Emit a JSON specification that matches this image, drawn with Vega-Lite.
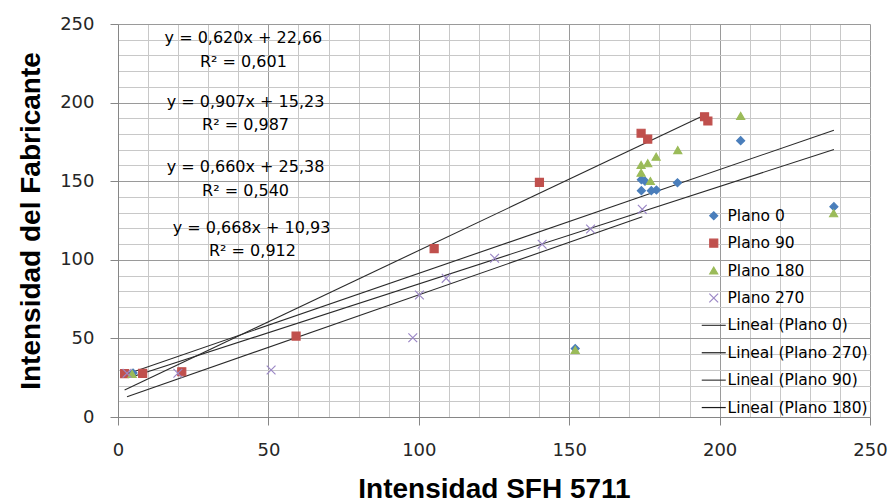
{
  "$schema": "https://vega.github.io/schema/vega-lite/v6.json",
  "width": 752,
  "height": 393,
  "autosize": {"type": "none"},
  "padding": {"left": 118, "top": 24, "right": 23, "bottom": 87},
  "background": "white",
  "config": {
    "view": {"stroke": null},
    "font": "DejaVu Sans",
    "axis": {
      "domainColor": "#868686",
      "tickColor": "#868686",
      "tickSize": 8,
      "labelFont": "DejaVu Sans",
      "labelFontSize": 18,
      "labelColor": "#262626",
      "labelPadding": 16,
      "titleFont": "Liberation Sans",
      "titleFontWeight": "bold",
      "titleFontSize": 28,
      "titleColor": "#000000",
      "gridWidth": 1
    },
    "legend": {
      "title": null,
      "orient": "none",
      "legendX": 588,
      "legendY": 184,
      "labelFont": "DejaVu Sans",
      "labelFontSize": 15.5,
      "labelColor": "#000000",
      "labelOffset": 6,
      "rowPadding": 10.4,
      "symbolSize": 64,
      "symbolStrokeWidth": 1.2,
      "symbolOpacity": 1
    }
  },
  "datasets": {
    "pts": [
      {"serie": "Plano 0", "x": 5, "y": 28},
      {"serie": "Plano 0", "x": 152, "y": 43.5},
      {"serie": "Plano 0", "x": 174, "y": 151},
      {"serie": "Plano 0", "x": 175.2, "y": 150},
      {"serie": "Plano 0", "x": 174, "y": 144},
      {"serie": "Plano 0", "x": 177.3, "y": 144},
      {"serie": "Plano 0", "x": 179, "y": 144.4},
      {"serie": "Plano 0", "x": 186, "y": 149},
      {"serie": "Plano 0", "x": 207, "y": 175.8},
      {"serie": "Plano 0", "x": 238, "y": 133.8},
      {"serie": "Plano 90", "x": 2.2, "y": 27.6},
      {"serie": "Plano 90", "x": 8.2, "y": 27.8},
      {"serie": "Plano 90", "x": 21.2, "y": 28.8},
      {"serie": "Plano 90", "x": 59.2, "y": 51.5},
      {"serie": "Plano 90", "x": 105.1, "y": 107.1},
      {"serie": "Plano 90", "x": 140.1, "y": 149.3},
      {"serie": "Plano 90", "x": 173.9, "y": 180.5},
      {"serie": "Plano 90", "x": 176.1, "y": 176.8},
      {"serie": "Plano 90", "x": 195, "y": 191},
      {"serie": "Plano 90", "x": 196.1, "y": 188.3},
      {"serie": "Plano 180", "x": 4.7, "y": 27.4},
      {"serie": "Plano 180", "x": 152, "y": 42.6},
      {"serie": "Plano 180", "x": 173.9, "y": 160.3},
      {"serie": "Plano 180", "x": 176.1, "y": 161.4},
      {"serie": "Plano 180", "x": 178.9, "y": 165.6},
      {"serie": "Plano 180", "x": 186.1, "y": 169.8},
      {"serie": "Plano 180", "x": 173.9, "y": 155.4},
      {"serie": "Plano 180", "x": 177, "y": 150.1},
      {"serie": "Plano 180", "x": 207, "y": 191.5},
      {"serie": "Plano 180", "x": 237.9, "y": 129.6},
      {"serie": "Plano 270", "x": 3, "y": 27.8},
      {"serie": "Plano 270", "x": 19.9, "y": 27.8},
      {"serie": "Plano 270", "x": 50.9, "y": 29.9},
      {"serie": "Plano 270", "x": 98, "y": 50.4},
      {"serie": "Plano 270", "x": 100.2, "y": 77.6},
      {"serie": "Plano 270", "x": 109.1, "y": 88.2},
      {"serie": "Plano 270", "x": 125.2, "y": 101},
      {"serie": "Plano 270", "x": 141, "y": 109.9},
      {"serie": "Plano 270", "x": 157.1, "y": 119.6},
      {"serie": "Plano 270", "x": 174.3, "y": 132.1}
    ],
    "trend": [
      {"serie": "Lineal (Plano 0)", "x": 5, "y": 25.76},
      {"serie": "Lineal (Plano 0)", "x": 238, "y": 170.22},
      {"serie": "Lineal (Plano 270)", "x": 3, "y": 12.93},
      {"serie": "Lineal (Plano 270)", "x": 174.3, "y": 127.36},
      {"serie": "Lineal (Plano 90)", "x": 2.2, "y": 17.23},
      {"serie": "Lineal (Plano 90)", "x": 196.1, "y": 193.1},
      {"serie": "Lineal (Plano 180)", "x": 4.7, "y": 28.48},
      {"serie": "Lineal (Plano 180)", "x": 238, "y": 182.46}
    ],
    "eq": [
      {"label": "y = 0,620x + 22,66", "x": 41.7, "y": 241.1},
      {"label": "R² = 0,601", "x": 41.7, "y": 225.8},
      {"label": "y = 0,907x + 15,23", "x": 42.4, "y": 200.4},
      {"label": "R² = 0,987", "x": 42.4, "y": 185.7},
      {"label": "y = 0,660x + 25,38", "x": 42.4, "y": 159.0},
      {"label": "R² = 0,540", "x": 42.4, "y": 143.8},
      {"label": "y = 0,668x + 10,93", "x": 44.4, "y": 120.2},
      {"label": "R² = 0,912", "x": 44.7, "y": 105.6}
    ]
  },
  "encoding": {
    "x": {
      "field": "x",
      "type": "quantitative",
      "scale": {"domain": [0, 250], "nice": false, "zero": false},
      "axis": {
        "title": "Intensidad SFH 5711",
        "titlePadding": 16,
        "values": [0, 10, 20, 30, 40, 50, 60, 70, 80, 90, 100, 110, 120, 130, 140, 150, 160, 170, 180, 190, 200, 210, 220, 230, 240, 250],
        "labelExpr": "datum.value % 50 == 0 ? datum.label : ''",
        "labelOverlap": false,
        "labelFlush": false,
        "grid": true,
        "gridColor": {"condition": {"test": "datum.value % 50 == 0", "value": "#9a9a9a"}, "value": "#c8c8c8"},
        "tickOpacity": {"condition": {"test": "datum.value % 50 == 0", "value": 1}, "value": 0}
      }
    },
    "y": {
      "field": "y",
      "type": "quantitative",
      "scale": {"domain": [0, 250], "nice": false, "zero": false},
      "axis": {
        "title": "Intensidad del Fabricante",
        "titlePadding": 14,
        "values": [0, 10, 20, 30, 40, 50, 60, 70, 80, 90, 100, 110, 120, 130, 140, 150, 160, 170, 180, 190, 200, 210, 220, 230, 240, 250],
        "labelExpr": "datum.value % 50 == 0 ? datum.label : ''",
        "labelOverlap": false,
        "labelFlush": false,
        "grid": true,
        "gridColor": {"condition": {"test": "datum.value % 50 == 0", "value": "#9a9a9a"}, "value": "#c8c8c8"},
        "tickOpacity": {"condition": {"test": "datum.value % 50 == 0", "value": 1}, "value": 0}
      }
    }
  },
  "layer": [
    {
      "data": {"name": "trend"},
      "mark": {"type": "line", "strokeWidth": 1.1, "color": "#2a2a2a"},
      "encoding": {
        "detail": {"field": "serie"}
      }
    },
    {
      "data": {"name": "pts"},
      "mark": {"type": "point", "filled": true, "opacity": 1, "size": 64, "strokeWidth": 1.2},
      "encoding": {
        "color": {
          "field": "serie",
          "type": "nominal",
          "scale": {
            "domain": ["Plano 0", "Plano 90", "Plano 180", "Plano 270", "Lineal (Plano 0)", "Lineal (Plano 270)", "Lineal (Plano 90)", "Lineal (Plano 180)"],
            "range": ["#4a7ebb", "#c0504d", "#9bbb59", "#9c88c6", "#3a3a3a", "#1a1a1a", "#3a3a3a", "#1a1a1a"]
          }
        },
        "stroke": {
          "field": "serie",
          "type": "nominal",
          "scale": {
            "domain": ["Plano 0", "Plano 90", "Plano 180", "Plano 270", "Lineal (Plano 0)", "Lineal (Plano 270)", "Lineal (Plano 90)", "Lineal (Plano 180)"],
            "range": ["#4a7ebb", "#c0504d", "#9bbb59", "#9c88c6", "#3a3a3a", "#1a1a1a", "#3a3a3a", "#1a1a1a"]
          }
        },
        "shape": {
          "field": "serie",
          "type": "nominal",
          "scale": {
            "domain": ["Plano 0", "Plano 90", "Plano 180", "Plano 270", "Lineal (Plano 0)", "Lineal (Plano 270)", "Lineal (Plano 90)", "Lineal (Plano 180)"],
            "range": ["diamond", "square", "triangle-up", "M-1.1,-1.1L1.1,1.1M-1.1,1.1L1.1,-1.1", "M-3,0H3", "M-3,0H3", "M-3,0H3", "M-3,0H3"]
          }
        }
      }
    },
    {
      "data": {"name": "eq"},
      "mark": {"type": "text", "font": "DejaVu Sans", "fontSize": 16, "color": "#000000", "align": "center", "baseline": "middle"},
      "encoding": {
        "text": {"field": "label"}
      }
    }
  ]
}
